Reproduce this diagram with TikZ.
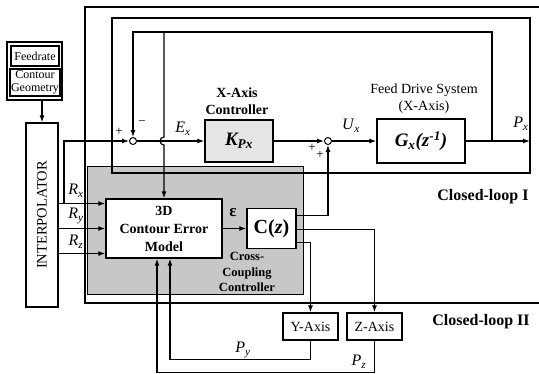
\documentclass[tikz,border=0pt]{standalone}
\usepackage{fontspec}
\setmainfont{Liberation Serif}
\usetikzlibrary{positioning,arrows.meta}
\newcommand{\vsig}[2]{\textit{#1}\textsubscript{\textit{#2}}}
\tikzset{
  sigarrow/.style={-{Latex[length=7pt,width=5pt]}, line width=1.2pt},
  sigline/.style={line width=1.2pt},
  blockbox/.style={draw, line width=1.3pt, fill=white, inner sep=1pt, align=center, font=\fontsize{14}{15}\selectfont},
  sumnode/.style={draw, circle, line width=1pt, fill=white, minimum size=7pt, inner sep=0pt},
  loopframe/.style={line width=2.6pt},
  siglabel/.style={font=\fontsize{16}{18}\selectfont, inner sep=0pt},
  headlabel/.style={font=\bfseries\fontsize{14}{17}\selectfont, align=center, inner sep=0pt},
  signmark/.style={font=\fontsize{13}{13}\selectfont, inner sep=0pt}
}

\begin{document}
\begin{tikzpicture}[x=1pt, y=-1pt, >=Latex]
  \useasboundingbox (0,0) rectangle (539,373);
  % shaded cross-coupling area and the two loop frames
  \draw[line width=0.8pt, fill=black!22] (87,166) rectangle (303,294);
  \draw[loopframe] (539,7) -- (85,7) -- (85,303) -- (539,303);
  \draw[loopframe] (112,18) rectangle (530,173);

  % reference generation
  \node[blockbox, line width=1.6pt, minimum width=55pt, minimum height=58pt] (feedbox) at (34.5,71) {};
  \node[blockbox, minimum width=48pt, minimum height=20pt, font=\fontsize{12}{12}\selectfont] (feedrate) at (35,56) {Feedrate};
  \node[blockbox, minimum width=48pt, minimum height=27pt, font=\fontsize{12}{12.5}\selectfont] (geometry) at (35,82.5) {Contour\\Geometry};
  \node[blockbox, rotate=90, minimum width=184pt, minimum height=32pt, font=\fontsize{14.5}{16}\selectfont] (interp) at (42,215) {INTERPOLATOR};

  % x-axis loop
  \node[sumnode] (sum1) at (133,141) {};
  \node[blockbox, fill=black!10, minimum width=68pt, minimum height=42pt, font=\bfseries\itshape\fontsize{19}{20}\selectfont] (kbox) at (239,141) {K\textsubscript{Px}};
  \node[sumnode] (sum2) at (328,141) {};
  \node[blockbox, minimum width=88pt, minimum height=44pt, font=\bfseries\itshape\fontsize{19}{21}\selectfont] (gbox) at (421,141) {G\textsubscript{x}(z\textsuperscript{-1})};
  \coordinate (pxout) at (530,141);
  \coordinate (pxsplit) at (492,141);
  \coordinate (fbsplit) at (164,32);

  % cross-coupling part
  \node[blockbox, minimum width=116pt, minimum height=59pt, font=\bfseries\fontsize{14}{18}\selectfont] (model) at (164,228.5) {3D\\Contour Error\\Model};
  \node[blockbox, minimum width=49pt, minimum height=40pt, font=\bfseries\fontsize{20}{22}\selectfont] (cz) at (271.5,228.5) {C(\textit{z})};
  \node[blockbox, minimum width=55pt, minimum height=27pt] (yax) at (310.5,326.5) {Y-Axis};
  \node[blockbox, minimum width=55pt, minimum height=27pt] (zax) at (374.5,326.5) {Z-Axis};
  \coordinate (rxsplit) at (64,203.5);

  % headings
  \node[headlabel] (xctrl) at (237,101.5) {X-Axis\\Controller};
  \node[headlabel, font=\fontsize{14}{17}\selectfont] (fdlabel) at (424,98.5) {Feed Drive System\\(X-Axis)};
  \node[headlabel, font=\bfseries\fontsize{12.5}{15.5}\selectfont] (cclabel) at (247,272) {Cross-\\Coupling\\Controller};
  \node[headlabel, font=\bfseries\fontsize{16}{18}\selectfont] (loopone) at (483,197) {Closed-loop I};
  \node[headlabel, font=\bfseries\fontsize{16}{18}\selectfont] (looptwo) at (481,322) {Closed-loop II};

  % connectors
  \draw[sigarrow] (feedbox.south -| interp.center) -- (interp.east);
  \draw[sigarrow] ([yshift=25pt]model.west -| interp.south) -- ([yshift=25pt]model.west);
  \draw[sigarrow] (model.west -| interp.south) -- (model.west);
  \draw[sigarrow] ([yshift=-25pt]model.west -| interp.south) -- ([yshift=-25pt]model.west);
  \draw[sigarrow] (rxsplit) |- (sum1);
  \draw[sigarrow] (sum1) -- (kbox);
  \draw[sigarrow] (kbox) -- (sum2);
  \draw[sigarrow] (sum2) -- (gbox);
  \draw[sigarrow] (gbox) -- (pxout);
  \draw[sigarrow] (pxsplit) -- (pxsplit |- fbsplit) -| (sum1);
  \draw[sigarrow] (fbsplit) -- ([yshift=4pt]sum1 -| model.north) arc[start angle=270, end angle=90, radius=4] -- (model.north);
  \draw[sigarrow] (model) -- (cz);
  \draw[sigarrow] ([yshift=13pt]cz.east) -| (sum2);
  \draw[sigarrow] ([yshift=-1pt]cz.east) -| (zax);
  \draw[sigarrow] ([yshift=-14pt]cz.east) -| (yax);
  \draw[sigarrow] (yax.south) -- ++(0,19) -| ([xshift=6pt]model.south);
  \draw[sigarrow] (zax.south) -- ++(0,32) -| ([xshift=-7pt]model.south);

  % signal names and signs
  \node[siglabel] (ex) at (183,129) {\vsig{E}{x}};
  \node[siglabel] (ux) at (351,126) {\vsig{U}{x}};
  \node[siglabel] (px) at (521,124) {\vsig{P}{x}};
  \node[siglabel] (rx) at (76,191) {\vsig{R}{x}};
  \node[siglabel] (ry) at (76,216) {\vsig{R}{y}};
  \node[siglabel] (rz) at (76,242) {\vsig{R}{z}};
  \node[siglabel] (py) at (243,350) {\vsig{P}{y}};
  \node[siglabel] (pz) at (359,362) {\vsig{P}{z}};
  \node[siglabel, font=\bfseries\fontsize{17}{18}\selectfont] (eps) at (233,213) {ε};
  \node[signmark] (plusa) at (119,132) {+};
  \node[signmark] (minusa) at (142,123) {−};
  \node[signmark] (plusb) at (312,148) {+};
  \node[signmark] (plusc) at (320,155) {+};
\end{tikzpicture}
\end{document}
